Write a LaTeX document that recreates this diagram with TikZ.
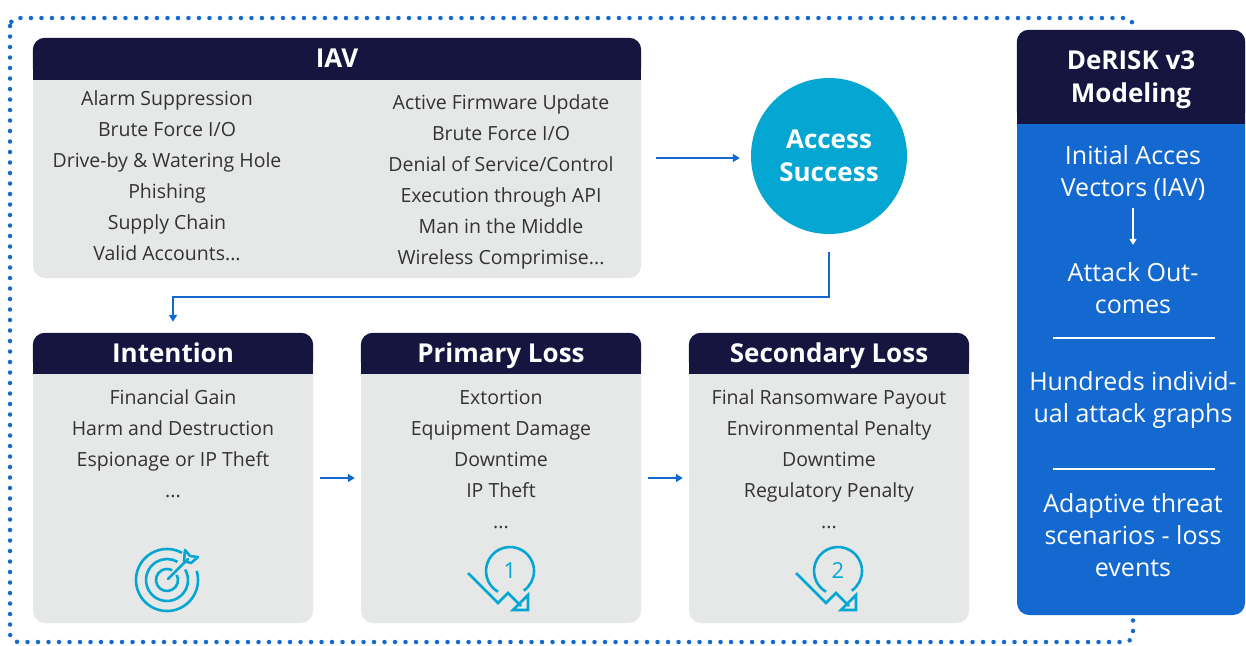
\documentclass[tikz,border=0pt]{standalone}
\usepackage{fontspec}
\setmainfont{Open Sans}
\usetikzlibrary{arrows.meta,positioning}
\definecolor{navy}{HTML}{15153F}
\definecolor{cardgray}{HTML}{E6E7E7}
\definecolor{accblue}{HTML}{1469D0}
\definecolor{cyanish}{HTML}{04A6D2}
\definecolor{txtgray}{HTML}{333333}
\begin{document}
\begin{tikzpicture}[x=1pt, y=-1pt,
  card/.style={rectangle, rounded corners=12pt, fill=cardgray, inner sep=0pt},
  headtxt/.style={text=white, align=center, font=\fontsize{26}{33}\selectfont\bfseries},
  listtxt/.style={text=txtgray, align=center, font=\fontsize{19.5}{31}\selectfont},
  paneltxt/.style={text=white, align=center, font=\fontsize{25}{32}\selectfont},
  flow/.style={accblue, line width=2.4pt, -{Triangle[length=7pt, width=8pt]}},
  icon/.style={cyanish, line width=2.6pt}]
\useasboundingbox (0,0) rectangle (1246,645);
% dotted frame
\draw[accblue, line width=4.5pt, line cap=round, dash pattern=on 0pt off 10.5pt, rounded corners=8pt] (10,18) rectangle (1133,642);

% IAV card
\node[card, minimum width=608, minimum height=240] (iav) at (337,158) {};
\fill[navy, rounded corners=12pt] (iav.north west) rectangle ([yshift=-42pt]iav.north east);
\fill[navy] ([yshift=-20pt]iav.north west) rectangle ([yshift=-42pt]iav.north east);
\node[headtxt, anchor=base] (iavhead) at (337,67) {IAV};
\node[listtxt] (iavleft) at (167,176) {Alarm Suppression\\Brute Force I/O\\Drive-by \& Watering Hole\\Phishing\\Supply Chain\\Valid Accounts...};
\node[listtxt] (iavright) at (501,182) {Active Firmware Update\\Brute Force I/O\\Denial of Service/Control\\Execution through API\\Man in the Middle\\Wireless Comprimise...};

% access circle
\node[circle, fill=cyanish, minimum size=156, inner sep=0pt, text=white, align=center, font=\fontsize{26}{33}\selectfont\bfseries] (access) at (829,156) {Access\\Success};
\draw[flow] ([xshift=15pt]iav.east) -- ([xshift=-11pt]access.west |- iav.east);

% lower cards
\node[card, minimum width=280, minimum height=290] (intent) at (173,478) {};
\fill[navy, rounded corners=12pt] (intent.north west) rectangle ([yshift=-41pt]intent.north east);
\fill[navy] ([yshift=-20pt]intent.north west) rectangle ([yshift=-41pt]intent.north east);
\node[headtxt, anchor=base] (intenthead) at (173,362) {Intention};
\node[listtxt] (intentlist) at (173,444) {Financial Gain\\Harm and Destruction\\Espionage or IP Theft\\...};

\node[card, minimum width=280, minimum height=290] (primary) at (501,478) {};
\fill[navy, rounded corners=12pt] (primary.north west) rectangle ([yshift=-41pt]primary.north east);
\fill[navy] ([yshift=-20pt]primary.north west) rectangle ([yshift=-41pt]primary.north east);
\node[headtxt, anchor=base] (primaryhead) at (501,362) {Primary Loss};
\node[listtxt] (primarylist) at (501,459) {Extortion\\Equipment Damage\\Downtime\\IP Theft\\...};

\node[card, minimum width=280, minimum height=290] (secondary) at (829,478) {};
\fill[navy, rounded corners=12pt] (secondary.north west) rectangle ([yshift=-41pt]secondary.north east);
\fill[navy] ([yshift=-20pt]secondary.north west) rectangle ([yshift=-41pt]secondary.north east);
\node[headtxt, anchor=base] (secondaryhead) at (829,362) {Secondary Loss};
\node[listtxt] (secondarylist) at (829,459) {Final Ransomware Payout\\Environmental Penalty\\Downtime\\Regulatory Penalty\\...};

\draw[flow] ([yshift=-18pt]access.south) -- ++(0,45) -| ([yshift=11pt]intent.north);
\draw[flow] ([xshift=7pt]intent.east) -- ([xshift=-6pt]primary.west);
\draw[flow] ([xshift=7pt]primary.east) -- ([xshift=-6pt]secondary.west);

% target icon
\draw[icon] (167,580) ++(-17:31) arc[start angle=-17, end angle=299, radius=31];
\draw[icon] (167,580) ++(-30:21) arc[start angle=-30, end angle=300, radius=21];
\draw[icon] (167,580) ++(-28:11) arc[start angle=-28, end angle=298, radius=11];
\draw[icon, line cap=round] (168,579) -- (188,559);
\draw[icon, line join=round] (184,561) -- (185,550) -- (190,556) -- (198,557) -- (191,563) -- cycle;

% loss icons
\draw[icon] (510,571) ++(120:24) arc[start angle=120, end angle=415, radius=24];
\draw[icon] (468,573) -- (498,603) -- (508,593) -- (521,606);
\draw[icon] (513,610) -- (528,610) -- (528,595) -- cycle;
\node[text=cyanish, font=\fontsize{22}{26}\selectfont] (lossone) at (510,571) {1};

\draw[icon] (838,571) ++(120:24) arc[start angle=120, end angle=415, radius=24];
\draw[icon] (796,573) -- (826,603) -- (836,593) -- (849,606);
\draw[icon] (841,610) -- (856,610) -- (856,595) -- cycle;
\node[text=cyanish, font=\fontsize{22}{26}\selectfont] (losstwo) at (838,571) {2};

% DeRISK panel
\node[rectangle, rounded corners=12pt, fill=accblue, minimum width=228, minimum height=585, inner sep=0pt] (panel) at (1131,322.5) {};
\fill[navy, rounded corners=12pt] (panel.north west) rectangle ([yshift=-94pt]panel.north east);
\fill[navy] ([yshift=-40pt]panel.north west) rectangle ([yshift=-94pt]panel.north east);
\node[headtxt] (panelhead) at ([yshift=-50pt]panel.north) {DeRISK v3\\Modeling};
\node[paneltxt] (pvec) at (1133,173) {Initial Acces\\Vectors (IAV)};
\node[paneltxt] (pout) at (1133,288) {Attack Out-\\comes};
\draw[white, line width=1.8pt, -{Triangle[length=6pt, width=7pt]}] ([yshift=-4pt]pvec.south) -- ([yshift=14pt]pout.north);
\draw[white, line width=2.5pt] (1053,338) -- (1215,338);
\node[paneltxt] (pgraph) at (1133,400) {Hundreds individ-\\ual attack graphs};
\draw[white, line width=2.5pt] (1053,469) -- (1215,469);
\node[paneltxt] (pscen) at (1133,535) {Adaptive threat\\scenarios - loss\\events};
\end{tikzpicture}
\end{document}
